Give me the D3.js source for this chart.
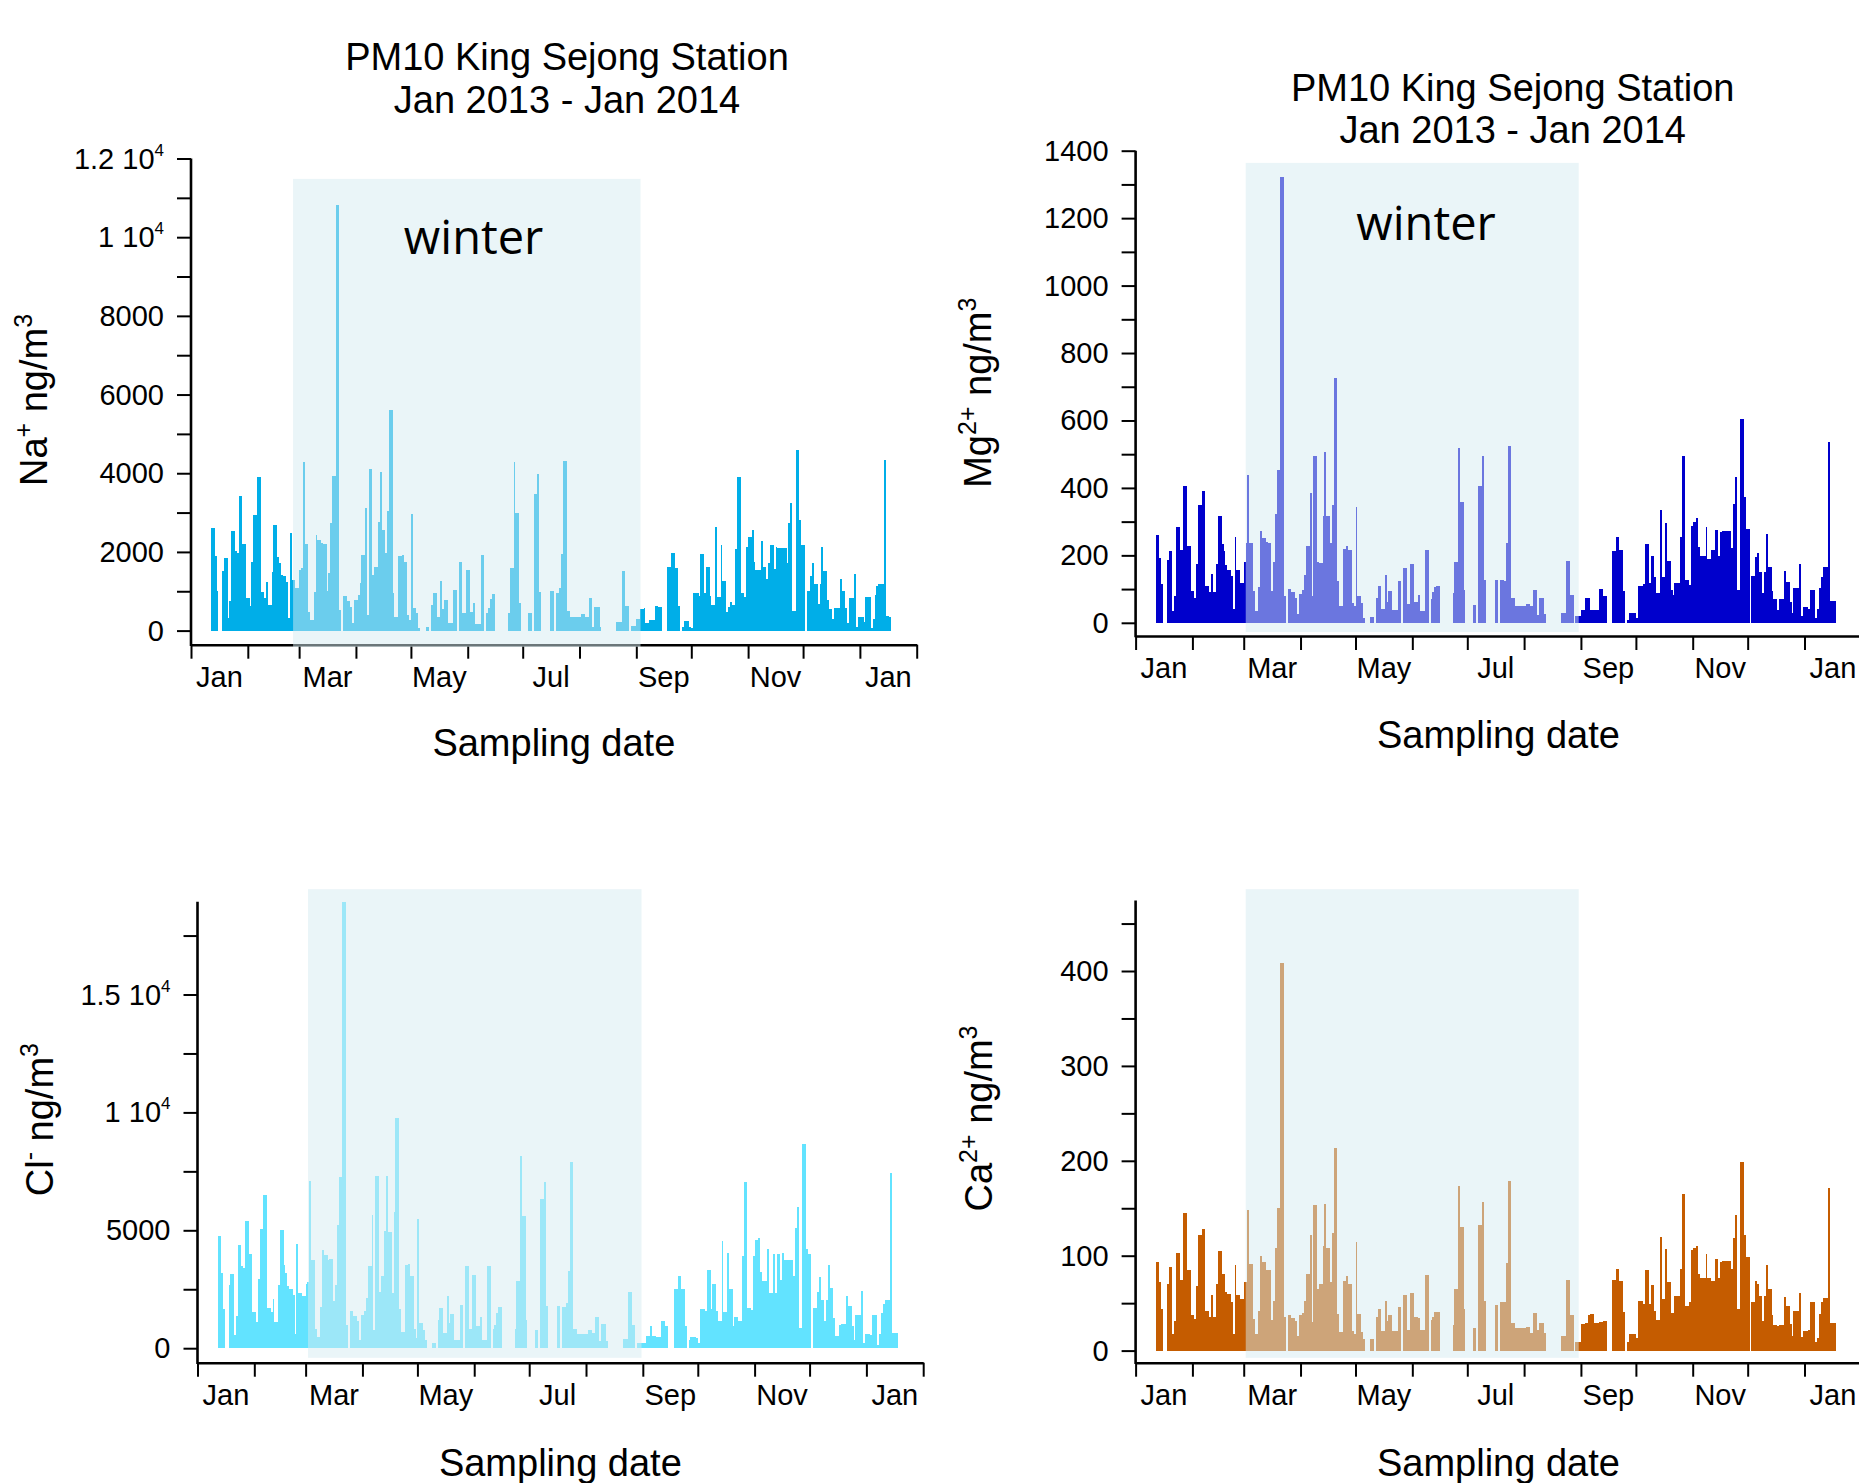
<!DOCTYPE html>
<html>
<head>
<meta charset="utf-8">
<script src="https://cdn.jsdelivr.net/npm/d3@7"></script>
<style>
body{margin:0;background:#fff;}
svg{display:block;font-family:"Liberation Sans",Arial,sans-serif;}
</style>
</head>
<body>
<svg id="chart" width="1859" height="1483"></svg>
<script>
// sample start days (days since 1 Jan 2013); a bar lasts until the next entry, null = no sample
const sample_days = [
	11,13,14,15,17,18,20,21,22,24,
	25,26,28,30,32,33,34,36,38,40,
	41,42,44,45,47,48,49,50,52,53,
	54,55,57,59,60,61,62,64,65,67,
	68,69,71,72,74,75,76,77,79,81,
	82,83,85,87,88,89,91,92,93,95,
	96,97,99,100,102,103,104,106,107,108,
	110,111,113,115,116,118,119,120,121,123,
	124,125,128,130,131,132,134,136,137,138,
	140,143,145,146,148,150,152,154,155,158,
	160,161,162,163,164,166,173,174,176,177,
	179,180,184,186,187,189,190,191,196,198,
	199,201,202,203,205,207,213,215,217,219,
	220,223,224,232,235,237,239,240,243,245,
	247,248,250,253,255,257,260,262,264,266,
	267,268,269,272,273,274,277,278,280,281,
	283,284,286,287,289,290,292,293,294,295,
	297,298,300,302,303,304,306,307,308,311,
	312,314,315,316,318,319,320,325,326,327,
	328,330,332,333,335,336,338,339,340,342,
	343,344,345,347,348,350,351,354,355,357,
	358,359,362,363,364,367,368,371,372,373,
	374,375,378,379,381];
const end_day = 382;

const na_values = [
	2617,1897,1016,null,1516,1855,330,754,2533,2024,
	1965,3422,2202,839,627,1753,2939,3896,983,839,
	1228,652,1499,2685,1880,1711,1414,1380,1245,330,
	2473,1287,1076,1542,1600,4294,2202,483,271,991,
	2431,2304,2219,2202,1016,1457,2727,3939,10819,525,
	null,881,754,610,186,779,906,1203,1923,3125,
	398,4100,1414,1626,2770,4023,2558,1965,3049,5618,
	966,356,1897,1923,1753,398,271,2956,567,440,
	59,null,102,null,652,949,356,1271,542,779,
	186,1033,null,1736,440,1542,483,711,169,1923,
	null,457,567,796,932,null,440,1601,4294,2981,
	695,null,440,null,3473,3981,974,null,1016,null,
	949,1076,1948,4320,508,339,424,356,839,102,
	610,102,null,229,1516,627,null,127,296,551,
	584,186,271,635,593,null,1609,1982,1584,627,
	null,102,254,102,59,949,881,1940,949,1626,
	889,652,2634,855,2177,1271,483,601,728,652,
	2067,3896,949,864,2134,2372,2558,1753,1542,2287,
	1626,1304,1711,2177,1558,2126,2092,1728,2744,3235,
	508,4591,2812,2177,null,1016,1398,1711,1186,669,
	1186,2134,1516,771,542,305,584,1321,1016,567,
	186,839,1440,93,356,229,864,59,305,898,
	1143,1186,4337,373,356];

const mg_values = [
	261,192,115,null,185,214,36,78,284,215,
	217,407,227,93,75,174,350,392,108,90,
	146,90,175,316,234,212,172,157,140,42,
	254,157,118,179,237,437,237,93,36,105,
	273,251,239,237,93,179,324,452,1321,78,
	null,100,90,75,26,85,98,141,227,385,
	78,496,179,177,316,506,316,237,348,726,
	123,50,219,229,217,60,49,344,80,58,
	14,null,17,null,75,110,42,143,63,93,
	38,123,null,162,55,175,63,83,36,215,
	null,70,90,106,108,null,88,179,519,358,
	98,null,53,null,407,496,126,null,126,null,
	126,123,237,524,73,49,55,49,98,24,
	73,27,null,29,184,83,null,21,39,73,
	73,39,39,100,78,null,212,254,215,93,
	null,7,29,29,14,110,116,234,118,197,
	137,88,335,137,295,182,98,83,118,118,
	255,494,126,113,286,300,311,226,197,285,
	188,217,217,274,197,270,272,222,352,432,
	98,605,373,278,null,140,195,206,152,88,
	152,263,165,95,70,38,70,154,120,61,
	29,103,175,19,46,40,98,14,40,103,
	135,164,535,65,65];

const cl_values = [
	4738,3187,1678,null,2665,3158,550,1382,4357,3469,
	3398,5400,4004,1537,1100,2933,5048,6500,1706,1523,
	2101,1100,2693,5020,3539,3187,2623,2500,2242,606,
	4413,2341,2200,2735,2800,7092,3751,818,479,1734,
	4174,3962,3751,3779,2016,2693,5231,7276,18936,973,
	null,1565,1382,1142,367,1424,1565,2129,3497,5654,
	790,7318,2383,3046,4977,7318,4949,2341,5795,9775,
	1664,691,3539,3567,3046,818,437,5471,1072,790,
	367,null,226,null,1213,1706,649,2228,1072,1452,
	338,1847,null,3497,832,3088,931,1325,338,3469,
	null,818,1001,1495,1734,null,818,2862,8150,5612,
	1213,null,790,null,6317,7036,1777,null,1805,null,
	1734,1918,3285,7910,832,606,790,649,1325,296,
	1029,324,null,395,2383,1001,null,226,226,508,
	931,508,479,1142,959,null,2510,3046,2510,959,
	null,338,479,437,226,1678,1565,3328,1678,2735,
	1565,1142,4554,1523,4033,2510,931,1325,1325,1142,
	3892,7064,1706,1636,3920,4597,4667,3215,2834,4216,
	2341,4004,2341,3990,2905,4033,3751,3074,5118,5978,
	860,8657,4202,4004,null,1706,2383,3003,2030,1142,
	2030,3539,2552,1283,536,1001,1043,2200,1777,931,
	367,1424,2439,226,620,578,1424,155,620,1495,
	1889,2059,7417,649,649];

const ca_values = [
	93,72,44,null,70,88,18,31,103,74,
	74,145,85,37,33,68,122,128,42,35,
	59,35,70,105,81,81,62,60,51,18,
	90,59,54,72,72,148,91,33,18,42,
	100,93,85,85,32,52,108,150,408,35,
	null,37,34,31,15,37,40,52,81,122,
	30,153,65,70,110,155,108,72,124,213,
	39,20,73,79,70,21,18,114,39,20,
	12,null,12,null,35,44,21,52,31,38,
	21,46,null,59,22,61,35,34,22,80,
	null,32,35,41,41,null,27,65,173,130,
	44,null,24,null,132,157,52,null,48,null,
	51,51,92,179,29,24,25,19,40,22,
	29,19,null,15,74,37,null,9,28,29,
	37,39,29,30,31,null,74,86,73,41,
	null,9,17,18,13,52,49,85,49,69,
	42,32,120,54,107,72,40,40,58,58,
	86,165,47,51,106,108,110,81,76,102,
	77,73,73,96,77,93,94,86,119,143,
	44,199,122,99,null,51,73,70,58,31,
	58,90,65,37,27,26,27,56,47,28,
	15,42,61,14,21,22,51,9,13,39,
	51,55,171,29,29];

const month_labels = ["Jan","Mar","May","Jul","Sep","Nov","Jan"];
const title_lines = ["PM10 King Sejong Station","Jan 2013 - Jan 2014"];
const x_title = "Sampling date";
const season_label = "winter";
// axis titles: [text, superscript?]
const na_title = [["Na",0],["+",1],[" ng/m",0],["3",1]];
const mg_title = [["Mg",0],["2+",1],[" ng/m",0],["3",1]];
const cl_title = [["Cl",0],["-",1],[" ng/m",0],["3",1]];
const ca_title = [["Ca",0],["2+",1],[" ng/m",0],["3",1]];

const panels = [
	{values:na_values, color:"#00aee8", y_title:na_title, x0:191, zero_y:630.6, top_y:158.5, y_max:12000, step:1000, label_step:2000,
	 axis_y:644.7, shade:[55.7,245.3], shade_y:[178.9,647], title:[567,70.3,112.8], winter:[473.6,254], ylab:[47,400], xlab_y:756},
	{values:mg_values, color:"#0000cc", y_title:mg_title, x0:1135.6, zero_y:622.8, top_y:150.7, y_max:1400, step:100, label_step:200,
	 axis_y:636, shade:[60.1,241.8], shade_y:[162.9,632], title:[1512.7,101,143], winter:[1426,240], ylab:[991,392.7], xlab_y:748},
	{values:cl_values, color:"#62e3ff", y_title:cl_title, x0:197.5, zero_y:1348.2, top_y:901.7, y_max:18936, step:2500, label_step:5000,
	 axis_y:1362.7, shade:[60.3,242.3], shade_y:[889.2,1357.8], title:null, winter:null, ylab:[53,1119.6], xlab_y:1476},
	{values:ca_values, color:"#c55c00", y_title:ca_title, x0:1135.6, zero_y:1350.6, top_y:900.5, y_max:474.3, step:50, label_step:100,
	 axis_y:1362.7, shade:[60.1,241.8], shade_y:[889.2,1357.8], title:null, winter:null, ylab:[992,1118.5], xlab_y:1476}
];

const svg = d3.select("#chart");
const day0 = Date.UTC(2013,0,1);
const day_end = Date.UTC(2014,1,1);
const toDate = d => new Date(day0 + d*864e5);
const plot_w = 725.7;

function writeParts(text, parts, size, sup_size, rise){
	let shift = 0;
	parts.forEach(([str, sup]) => {
		let target = sup ? -rise : 0;
		text.append("tspan")
			.attr("font-size", sup ? sup_size : size)
			.attr("dy", target - shift)
			.text(str);
		shift = target;
	});
}

function drawPanel(p){
	let g = svg.append("g");
	let x = d3.scaleUtc().domain([new Date(day0), new Date(day_end)]).range([p.x0, p.x0 + plot_w]);
	let y = d3.scaleLinear().domain([0, p.y_max]).range([p.zero_y, p.top_y]);

	let bars = sample_days.map((d,i) => ({
		start: d,
		end: i < sample_days.length-1 ? sample_days[i+1] : end_day,
		v: p.values[i]
	})).filter(b => b.v != null);

	g.append("g")
		.attr("shape-rendering","crispEdges")
		.selectAll("rect")
		.data(bars)
		.join("rect")
		.attr("x", b => x(toDate(b.start)))
		.attr("width", b => x(toDate(b.end)) - x(toDate(b.start)))
		.attr("y", b => y(b.v))
		.attr("height", b => y(0) - y(b.v))
		.attr("fill", p.color);

	// x axis: month ticks, labels in the middle of odd months
	let months = d3.utcMonth.range(new Date(day0), new Date(day_end + 864e5));
	let x_axis = d3.axisBottom(x).tickValues(months).tickFormat("").tickSize(14).tickSizeOuter(0);
	let gx = g.append("g").attr("transform", `translate(0,${p.axis_y})`).call(x_axis);
	gx.select(".domain").attr("stroke-width", 2.6);
	gx.selectAll(".tick line").attr("stroke-width", 2);

	month_labels.forEach((m,i) => {
		let a = months[i*2], b = months[i*2+1];
		g.append("text")
			.attr("x", (x(a) + x(b))/2)
			.attr("y", p.axis_y + 42)
			.attr("text-anchor","middle")
			.attr("font-size", 29)
			.text(m);
	});

	// y axis
	let ticks = d3.range(0, p.y_max + 1e-6, p.step);
	let y_axis = d3.axisLeft(y).tickValues(ticks).tickFormat("").tickSize(14).tickSizeOuter(0);
	let gy = g.append("g").attr("transform", `translate(${p.x0},0)`).call(y_axis);
	gy.select(".domain").remove();
	gy.selectAll(".tick line").attr("stroke-width", 2);
	g.append("line")
		.attr("x1", p.x0).attr("x2", p.x0)
		.attr("y1", p.top_y).attr("y2", p.axis_y + 1.3)
		.attr("stroke","#000").attr("stroke-width", 2.6);

	ticks.filter(v => v % p.label_step === 0).forEach(v => {
		let t = g.append("text")
			.attr("x", p.x0 - 27)
			.attr("y", y(v) + 10)
			.attr("text-anchor","end")
			.attr("font-size", 29);
		if (v >= 10000){
			t.append("tspan").text((v/10000) + " 10");
			t.append("tspan").attr("font-size",17).attr("dy",-13).text("4");
		} else {
			t.text(v);
		}
	});

	// winter shading laid over the bars
	g.append("rect")
		.attr("x", x(toDate(p.shade[0])))
		.attr("width", x(toDate(p.shade[1])) - x(toDate(p.shade[0])))
		.attr("y", p.shade_y[0])
		.attr("height", p.shade_y[1] - p.shade_y[0])
		.attr("fill","rgb(214,235,241)")
		.attr("fill-opacity",0.5);

	if (p.winter){
		g.append("text")
			.attr("x", p.winter[0]).attr("y", p.winter[1])
			.attr("text-anchor","middle")
			.attr("font-family","'Open Sans',sans-serif")
			.attr("font-size",47)
			.text(season_label);
	}

	if (p.title){
		title_lines.forEach((line,i) => {
			g.append("text")
				.attr("x", p.title[0]).attr("y", p.title[1+i])
				.attr("text-anchor","middle")
				.attr("font-size",38)
				.text(line);
		});
	}

	g.append("text")
		.attr("x", p.x0 + plot_w/2).attr("y", p.xlab_y)
		.attr("text-anchor","middle")
		.attr("font-size",38)
		.text(x_title);

	let yt = g.append("text")
		.attr("transform", `translate(${p.ylab[0]},${p.ylab[1]}) rotate(-90)`)
		.attr("text-anchor","middle");
	writeParts(yt, p.y_title, 38, 25, 15);
}

panels.forEach(drawPanel);
</script>
</body>
</html>
